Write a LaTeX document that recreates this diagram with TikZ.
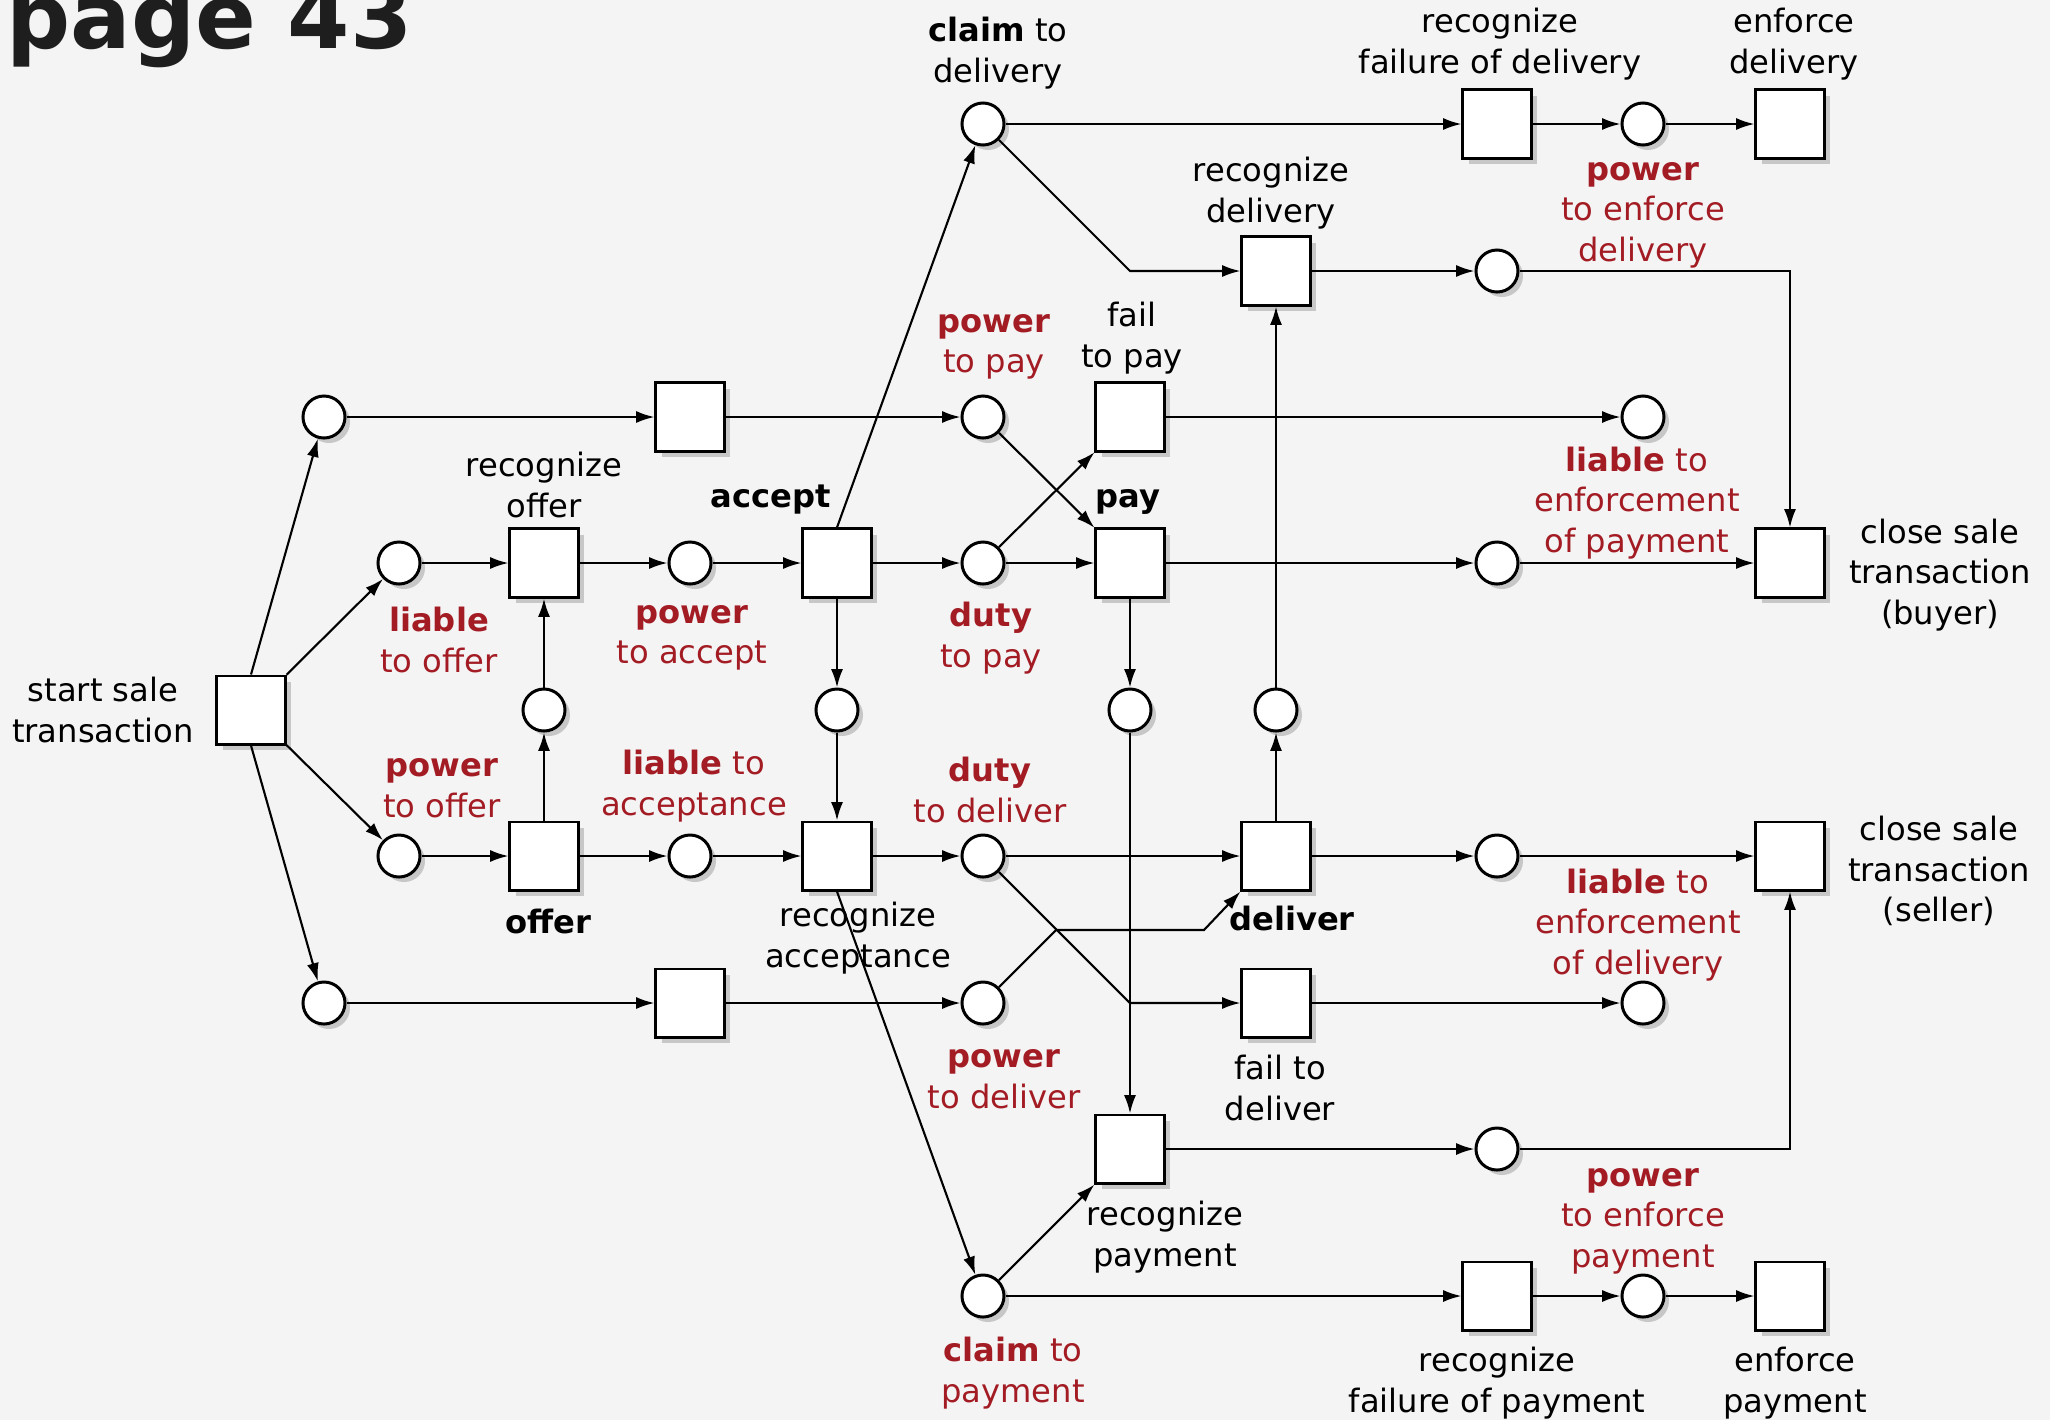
\documentclass[tikz,border=0pt]{standalone}
\usepackage{xcolor}
\usepackage{tikz}
\usepackage{fontspec}
\setmainfont{DejaVu Sans}
\usetikzlibrary{shapes,arrows,positioning,calc,arrows.meta,shadows,backgrounds}

\definecolor{pagebg}{RGB}{244,244,244}
\definecolor{legalred}{RGB}{163,28,36}
\definecolor{titlegray}{RGB}{30,30,30}
\newcommand{\lblfont}{\fontsize{9.15pt}{11.55pt}\selectfont}

\begin{document}
\begin{tikzpicture}[x=0.01cm, y=-0.01cm,
    transbox/.style={rectangle, draw, fill=white, line width=0.85pt, minimum width=0.68cm, minimum height=0.68cm, inner sep=0pt,
        drop shadow={shadow xshift=0.06cm, shadow yshift=-0.06cm, fill=black!22, opacity=1}},
    placenode/.style={circle, draw, fill=white, line width=0.85pt, minimum size=0.42cm, inner sep=0pt,
        drop shadow={shadow xshift=0.05cm, shadow yshift=-0.05cm, fill=black!22, opacity=1}},
    flow/.style={-{Latex[length=5.2pt,width=3.4pt]}, line width=0.6pt},
    lbl/.style={align=center, inner sep=0pt, font=\lblfont},
    redlbl/.style={lbl, text=legalred}]
    \useasboundingbox (0,0) rectangle (2050,1420);
    \fill[pagebg] (0,0) rectangle (2050,1420);
    \node[anchor=base west, inner sep=0pt, text=titlegray, font=\fontsize{25.5pt}{30pt}\selectfont\bfseries] (title) at (6,48) {page 43};

    % Row 0
    \node[placenode] (cdel) at (983,124) {};
    \node[transbox] (rfdel) at (1497,124) {};
    \node[placenode] (penfdel) at (1643,124) {};
    \node[transbox] (enfdel) at (1790,124) {};
    % Row 1
    \node[transbox] (rdel) at (1276,271) {};
    \node[placenode] (pdel) at (1497,271) {};
    % Row 2
    \node[placenode] (pa) at (324,417) {};
    \node[transbox] (ta) at (690,417) {};
    \node[placenode] (ppay) at (983,417) {};
    \node[transbox] (failpay) at (1130,417) {};
    \node[placenode] (lenfpay) at (1643,417) {};
    % Row 3
    \node[placenode] (loffer) at (399,563) {};
    \node[transbox] (roffer) at (544,563) {};
    \node[placenode] (paccept) at (690,563) {};
    \node[transbox] (accept) at (837,563) {};
    \node[placenode] (dpay) at (983,563) {};
    \node[transbox] (pay) at (1130,563) {};
    \node[placenode] (ppaid) at (1497,563) {};
    \node[transbox] (closeb) at (1790,563) {};
    % Row 4
    \node[transbox] (start) at (251,710) {};
    \node[placenode] (poff) at (544,710) {};
    \node[placenode] (pacc) at (837,710) {};
    \node[placenode] (ppaym) at (1130,710) {};
    \node[placenode] (pdeliv) at (1276,710) {};
    % Row 5
    \node[placenode] (poffer) at (399,856) {};
    \node[transbox] (offer) at (544,856) {};
    \node[placenode] (lacc) at (690,856) {};
    \node[transbox] (racc) at (837,856) {};
    \node[placenode] (ddel) at (983,856) {};
    \node[transbox] (deliver) at (1276,856) {};
    \node[placenode] (pdone) at (1497,856) {};
    \node[transbox] (closes) at (1790,856) {};
    % Row 6
    \node[placenode] (pb) at (324,1003) {};
    \node[transbox] (tb) at (690,1003) {};
    \node[placenode] (pdeliver) at (983,1003) {};
    \node[transbox] (faildel) at (1276,1003) {};
    \node[placenode] (lenfdel) at (1643,1003) {};
    % Row 7
    \node[transbox] (rpay) at (1130,1149) {};
    \node[placenode] (prpay) at (1497,1149) {};
    % Row 8
    \node[placenode] (cpay) at (983,1296) {};
    \node[transbox] (rfpay) at (1497,1296) {};
    \node[placenode] (penfpay) at (1643,1296) {};
    \node[transbox] (enfpay) at (1790,1296) {};

    % bends
    \coordinate (kdel) at (1130,271);
    \coordinate (kfd) at (1130,1003);
    \coordinate (kd1) at (1056,930);
    \coordinate (kd2) at (1204,930);

    % Labels
    \node[lbl] (txtcdel) at (998,53) {\textbf{claim} to\\delivery};
    \node[lbl] (txtrfdel) at (1500,44) {recognize\\failure of delivery};
    \node[lbl] (txtenfdel) at (1794,44) {enforce\\delivery};
    \node[redlbl] (txtpenfdel) at (1643,215) {\textbf{power}\\to enforce\\delivery};
    \node[lbl] (txtrdel) at (1271,193) {recognize\\delivery};
    \node[redlbl] (txtppay) at (994,347) {\textbf{power}\\to pay};
    \node[lbl] (txtfailpay) at (1132,338) {fail\\to pay};
    \node[redlbl] (txtlenfpay) at (1637,503) {\textbf{liable} to\\enforcement\\of payment};
    \node[lbl] (txtroffer) at (544,485) {recognize\\offer};
    \node[lbl, font=\lblfont\bfseries] (txtaccept) at (771,500) {accept};
    \node[lbl, font=\lblfont\bfseries] (txtpay) at (1128,502) {pay};
    \node[redlbl] (txtloffer) at (439,640) {\textbf{liable}\\to offer};
    \node[redlbl] (txtpaccept) at (692,638) {\textbf{power}\\to accept};
    \node[redlbl] (txtdpay) at (991,638) {\textbf{duty}\\to pay};
    \node[lbl] (txtcloseb) at (1940,575) {close sale\\transaction\\(buyer)};
    \node[lbl] (txtstart) at (103,710) {start sale\\transaction};
    \node[redlbl] (txtpoffer) at (442,788) {\textbf{power}\\to offer};
    \node[redlbl] (txtlacc) at (694,786) {\textbf{liable} to\\acceptance};
    \node[redlbl] (txtddel) at (990,790) {\textbf{duty}\\to deliver};
    \node[lbl, font=\lblfont\bfseries] (txtoffer) at (548,921) {offer};
    \node[lbl] (txtracc) at (858,938) {recognize\\acceptance};
    \node[lbl, font=\lblfont\bfseries] (txtdeliver) at (1292,918) {deliver};
    \node[lbl] (txtcloses) at (1939,871) {close sale\\transaction\\(seller)};
    \node[redlbl] (txtlenfdel) at (1638,925) {\textbf{liable} to\\enforcement\\of delivery};
    \node[redlbl] (txtpdeliver) at (1004,1079) {\textbf{power}\\to deliver};
    \node[lbl] (txtfaildel) at (1280,1088) {fail to\\deliver};
    \node[redlbl] (txtpenfpay) at (1643,1221) {\textbf{power}\\to enforce\\payment};
    \node[lbl] (txtrpay) at (1165,1237) {recognize\\payment};
    \node[redlbl] (txtcpay) at (1013,1373) {\textbf{claim} to\\payment};
    \node[lbl] (txtrfpay) at (1497,1383) {recognize\\failure of payment};
    \node[lbl] (txtenfpay) at (1795,1383) {enforce\\payment};

    % start of the sale
    \draw[flow] (start.north) -- (pa);
    \draw[flow] (start) -- (loffer);
    \draw[flow] (start) -- (poffer);
    \draw[flow] (start.south) -- (pb);

    % offer
    \draw[flow] (loffer) -- (roffer);
    \draw[flow] (poffer) -- (offer);
    \draw[flow] (offer) -- (poff);
    \draw[flow] (poff) -- (roffer);
    \draw[flow] (roffer) -- (paccept);
    \draw[flow] (offer) -- (lacc);

    % acceptance
    \draw[flow] (paccept) -- (accept);
    \draw[flow] (lacc) -- (racc);
    \draw[flow] (accept) -- (pacc);
    \draw[flow] (pacc) -- (racc);
    \draw[flow] (accept.north) -- (cdel);
    \draw[flow] (racc.south) -- (cpay);
    \draw[flow] (accept) -- (dpay);
    \draw[flow] (racc) -- (ddel);

    % side branches
    \draw[flow] (pa) -- (ta);
    \draw[flow] (ta) -- (ppay);
    \draw[flow] (pb) -- (tb);
    \draw[flow] (tb) -- (pdeliver);

    % payment
    \draw[flow] (ppay) -- (pay);
    \draw[flow] (dpay) -- (pay);
    \draw[flow] (dpay) -- (failpay);
    \draw[flow] (failpay) -- (lenfpay);
    \draw[flow] (pay) -- (ppaid);
    \draw[flow] (ppaid) -- (closeb);
    \draw[flow] (pay) -- (ppaym);
    \draw[flow] (ppaym) -- (rpay);
    \draw[flow] (cpay) -- (rpay);
    \draw[flow] (rpay) -- (prpay);
    \draw[flow] (prpay) -| (closes);

    % delivery
    \draw[flow] (ddel) -- (deliver);
    \draw[flow] (ddel) -- (kfd) -- (faildel);
    \draw[flow] (pdeliver) -- (kd1) -- (kd2) -- (deliver.south west);
    \draw[flow] (faildel) -- (lenfdel);
    \draw[flow] (deliver) -- (pdone);
    \draw[flow] (pdone) -- (closes);
    \draw[flow] (deliver) -- (pdeliv);
    \draw[flow] (pdeliv) -- (rdel);
    \draw[flow] (cdel) -- (kdel) -- (rdel);
    \draw[flow] (rdel) -- (pdel);
    \draw[flow] (pdel) -| (closeb);

    % enforcement
    \draw[flow] (cdel) -- (rfdel);
    \draw[flow] (rfdel) -- (penfdel);
    \draw[flow] (penfdel) -- (enfdel);
    \draw[flow] (cpay) -- (rfpay);
    \draw[flow] (rfpay) -- (penfpay);
    \draw[flow] (penfpay) -- (enfpay);
\end{tikzpicture}
\end{document}
